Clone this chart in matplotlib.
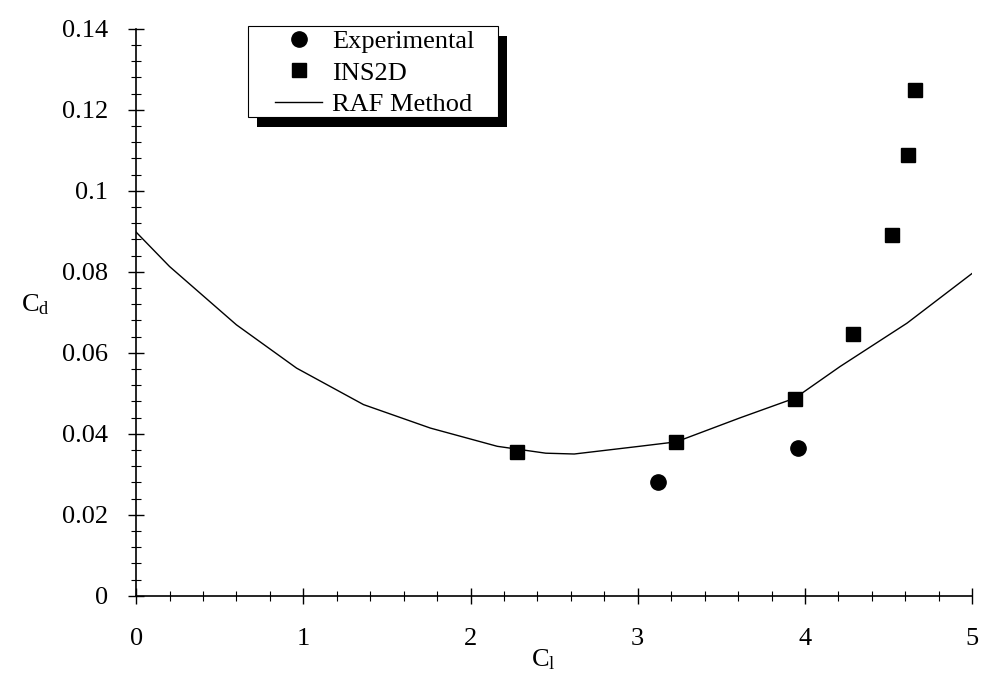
import numpy as np
import matplotlib.pyplot as plt
from matplotlib.ticker import MultipleLocator, FuncFormatter
from matplotlib.patches import Rectangle

plt.rcParams['font.family'] = ['Liberation Serif', 'DejaVu Serif']
plt.rcParams['mathtext.fontset'] = 'custom'
plt.rcParams['mathtext.rm'] = 'Liberation Serif'

# measured drag points
exp_cl = [3.12, 3.96]
exp_cd = [0.0281, 0.0365]

ins_cl = [2.28, 3.23, 3.94, 4.29, 4.52, 4.615, 4.655]
ins_cd = [0.0355, 0.0379, 0.0486, 0.0647, 0.0891, 0.1089, 0.1249]

# RAF method drag polar
raf_cl = [0.0, 0.2, 0.6, 0.96, 1.36, 1.76, 2.16, 2.45, 2.62, 3.01, 3.23, 3.61, 3.94, 4.21, 4.61, 5.0]
raf_cd = [0.0898, 0.0813, 0.0669, 0.0562, 0.0472, 0.0414, 0.0369, 0.0352, 0.0350, 0.0369,
          0.0380, 0.0439, 0.0488, 0.0566, 0.0673, 0.0796]

fig = plt.figure(figsize=(9.86, 6.84), dpi=100)
ax = fig.add_axes([0.138, 0.129, 0.848, 0.829])

ax.plot(exp_cl, exp_cd, 'o', color='black', ms=11, label='Experimental')
ax.plot(ins_cl, ins_cd, 's', color='black', ms=10, label='INS2D')
ax.plot(raf_cl, raf_cd, '-', color='black', lw=1.0, label='RAF Method')

ax.set_xlim(0, 5)
ax.set_ylim(0, 0.14)
ax.xaxis.set_major_locator(MultipleLocator(1))
ax.xaxis.set_minor_locator(MultipleLocator(0.2))
ax.yaxis.set_major_locator(MultipleLocator(0.02))
ax.yaxis.set_minor_locator(MultipleLocator(0.004))
ax.yaxis.set_major_formatter(FuncFormatter(lambda v, p: '%g' % round(v, 3)))

for s in ['top', 'right']:
    ax.spines[s].set_visible(False)
for s in ['left', 'bottom']:
    ax.spines[s].set_linewidth(1.2)
    ax.spines[s].set_clip_on(False)

ax.tick_params(which='major', direction='inout', length=12, width=1.0, labelsize=19, pad=14)
ax.tick_params(which='minor', direction='inout', length=7, width=0.8)
ax.tick_params(axis='x', which='major', pad=17)

ax.text(-0.12, 0.514, r'$\mathregular{C_d}$', transform=ax.transAxes, fontsize=19, ha='center', va='center')
ax.text(0.487, -0.112, r'$\mathregular{C_l}$', transform=ax.transAxes, fontsize=19, ha='center', va='center')

# legend box with a solid drop shadow
bx0, bx1, by0, by1 = 0.134, 0.433, 0.845, 1.005
ax.add_patch(Rectangle((bx0 + 0.0108, by0 - 0.0177), bx1 - bx0, by1 - by0, transform=ax.transAxes,
                       facecolor='black', edgecolor='none', zorder=4, clip_on=False))
ax.add_patch(Rectangle((bx0, by0), bx1 - bx0, by1 - by0, transform=ax.transAxes,
                       facecolor='white', edgecolor='black', lw=0.8, zorder=4.5, clip_on=False))

leg = ax.legend(loc='upper left', bbox_to_anchor=(0.166, 0.998), fontsize=19, frameon=False,
                handlelength=1.8, handletextpad=0.38, borderpad=0, labelspacing=0.3,
                borderaxespad=0)
leg.set_zorder(5)

fig.savefig('out.png', dpi=100)
